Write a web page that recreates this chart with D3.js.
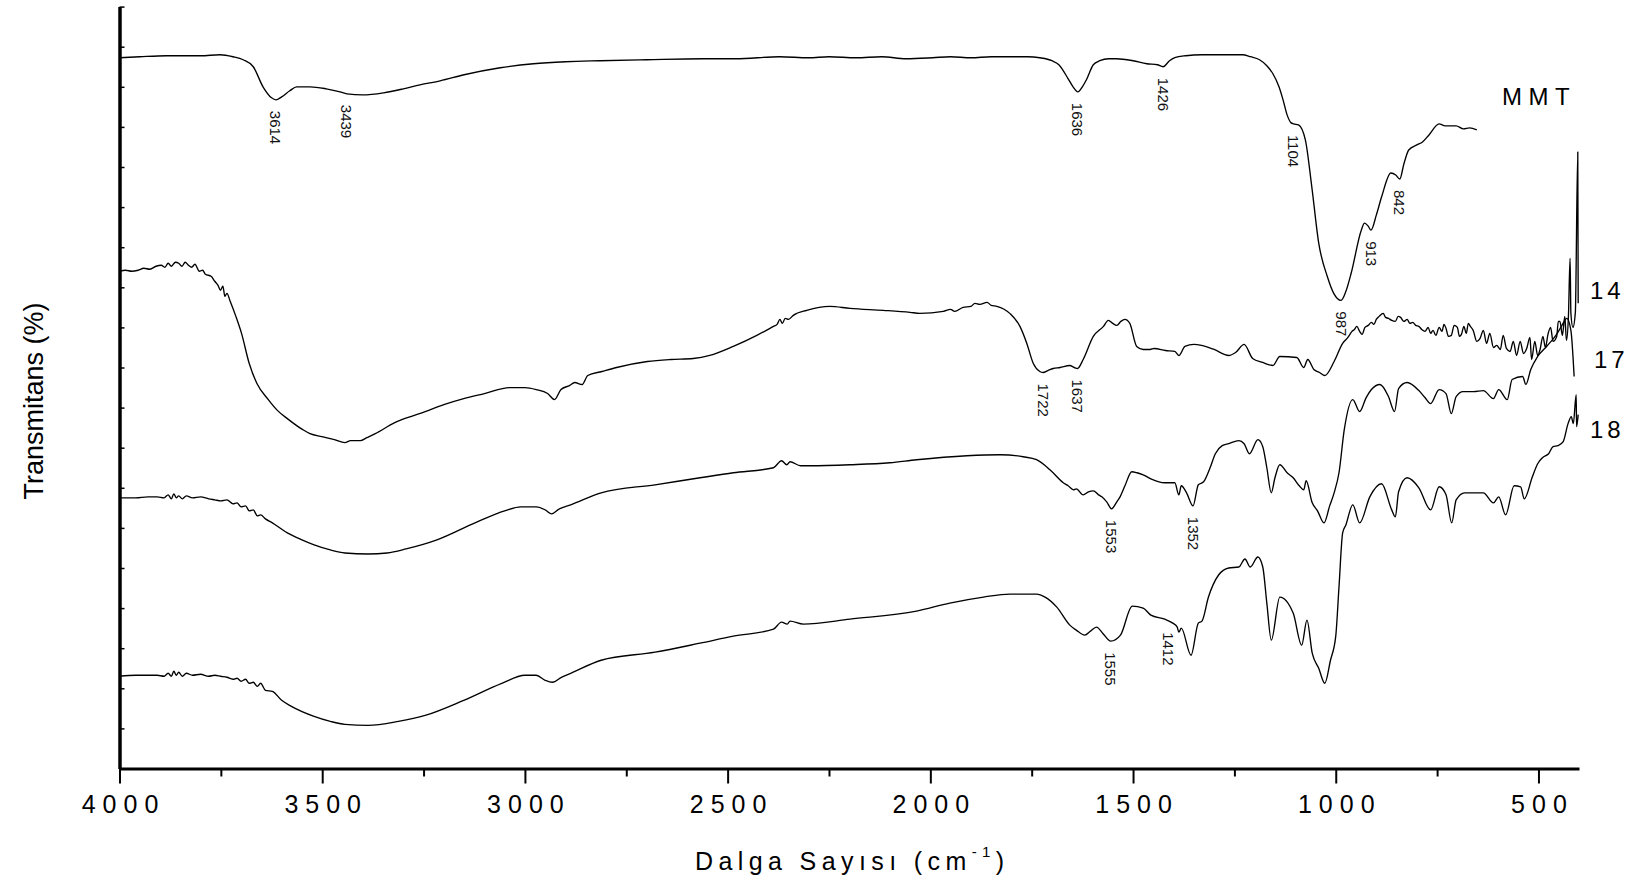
<!DOCTYPE html>
<html>
<head>
<meta charset="utf-8">
<script src="https://cdn.jsdelivr.net/npm/d3@7"></script>
<style>
  html, body { margin: 0; padding: 0; background: #fff; }
  svg { display: block; }
  text { font-family: Arial, "Liberation Sans", sans-serif; }
</style>
</head>
<body>
<svg id="chart" width="1632" height="883"></svg>
<script>
// FTIR spectra, [wavenumber cm-1, offset transmittance]
const mmt = [[4000,709],[3950,710],[3884,711],[3800,711],[3752,712],[3720,710],[3695,707],[3670,700],[3646,680],[3625,669],[3614,667],[3600,670],[3580,676],[3563,680],[3530,680],[3490,678],[3456,675],[3439,673],[3400,672],[3349,674],[3300,678],[3259,682],[3209,686],[3150,692],[3061,699],[2979,703],[2900,705],[2815,706],[2700,707],[2561,708],[2480,708],[2372,710],[2300,709],[2250,710],[2183,709],[2120,710],[2060,708],[1994,709],[1950,710],[1900,709],[1850,710],[1806,710],[1760,710],[1730,709],[1700,706],[1683,702],[1660,688],[1648,680],[1636,675],[1625,680],[1615,687],[1598,702],[1582,706],[1560,708],[1541,708],[1500,706],[1466,703],[1440,702],[1426,700],[1410,706],[1397,709],[1370,711],[1330,712],[1280,712],[1230,712],[1210,710],[1188,707],[1170,701],[1155,693],[1140,680],[1130,667],[1120,652],[1110,644],[1104,643],[1092,642],[1075,627],[1059,580],[1042,524],[1021,491],[1005,474],[987,467],[975,476],[962,494],[937,537],[929,544],[920,541],[913,537],[900,552],[887,570],[864,594],[852,592],[842,588],[832,603],[820,617],[800,622],[786,625],[770,632],[745,643],[730,641],[703,641],[685,638],[670,639],[652,637]];

const s14 = [[4000,496],[3985,497],[3970,496],[3954,497],[3940,499],[3925,498],[3910,501],[3897,502],[3888,500],[3880,504],[3872,501],[3862,505],[3854,504],[3846,501],[3838,505],[3830,502],[3822,500],[3814,503],[3803,496],[3795,497],[3788,493],[3774,491],[3765,486],[3757,482],[3751,477],[3745,481],[3740,471],[3735,474],[3727,466],[3713,451],[3699,434],[3680,404],[3661,384],[3633,368],[3610,357],[3586,349],[3548,338],[3530,334],[3501,331],[3470,328],[3444,325],[3430,327],[3406,327],[3390,330],[3369,334],[3321,345],[3290,350],[3246,356],[3200,363],[3151,369],[3100,374],[3038,380],[3000,380],[2972,378],[2944,374],[2927,368],[2911,378],[2890,382],[2877,385],[2859,383],[2845,392],[2810,396],[2774,400],[2698,406],[2640,408],[2585,409],[2544,412],[2486,421],[2428,432],[2387,441],[2378,443],[2371,448],[2365,444],[2358,449],[2350,448],[2338,452],[2305,457],[2248,461],[2198,459],[2116,457],[2050,455],[2026,454],[1968,456],[1950,458],[1940,456],[1919,460],[1900,461],[1890,464],[1878,463],[1860,465],[1850,462],[1836,461],[1804,454],[1779,441],[1762,424],[1746,404],[1730,396],[1722,395],[1710,397],[1697,399],[1680,400],[1656,402],[1645,400],[1637,399],[1623,408],[1598,431],[1573,441],[1561,447],[1550,444],[1540,442],[1530,446],[1520,448],[1508,444],[1491,421],[1475,418],[1458,418],[1448,419],[1420,417],[1397,416],[1387,412],[1372,421],[1350,423],[1331,422],[1300,418],[1264,412],[1247,415],[1226,423],[1205,409],[1180,405],[1155,402],[1138,411],[1096,410],[1079,400],[1069,408],[1054,398],[1040,395],[1027,392],[1004,406],[983,424],[970,430],[960,436],[954,438],[948,441],[941,436],[935,433],[928,440],[920,442],[912,445],[906,443],[900,448],[893,451],[883,454],[877,450],[870,449],[862,447],[853,446],[846,451],[840,450],[832,446],[824,448],[817,444],[810,445],[803,442],[795,441],[788,438],[780,436],[772,440],[766,434],[760,437],[753,432],[745,440],[738,436],[733,443],[728,439],[722,431],[715,432],[708,442],[700,440],[695,431],[690,433],[684,441],[678,434],[673,444],[668,441],[661,437],[652,426],[644,429],[636,437],[628,424],[620,434],[611,420],[603,422],[594,418],[587,432],[579,419],[570,416],[562,426],[554,412],[545,426],[537,414],[529,419],[521,430],[517,408],[509,426],[502,412],[496,418],[489,431],[483,420],[476,434],[470,440],[464,426],[455,431],[451,446],[447,446],[441,432],[435,451],[431,427],[426,452],[422,509],[420,454],[415,440],[409,455],[403,615],[402,464]];

const s17 = [[4000,270],[3960,270],[3930,271],[3907,271],[3890,270],[3880,273],[3872,269],[3866,274],[3860,270],[3854,272],[3845,269],[3835,272],[3820,270],[3800,271],[3780,269],[3765,268],[3750,267],[3735,268],[3720,264],[3710,265],[3700,261],[3689,262],[3680,257],[3670,258],[3660,252],[3652,253],[3640,249],[3623,245],[3586,235],[3550,228],[3520,223],[3480,218],[3444,215],[3387,214],[3340,215],[3293,219],[3217,228],[3123,245],[3050,257],[3010,261],[2972,261],[2950,258],[2934,254],[2915,259],[2887,263],[2812,275],[2679,283],[2568,290],[2486,295],[2387,300],[2367,307],[2354,303],[2346,306],[2320,302],[2297,302],[2198,303],[2100,305],[2034,308],[1910,312],[1828,313],[1771,311],[1738,308],[1705,298],[1672,285],[1660,282],[1647,278],[1640,279],[1623,273],[1610,276],[1598,277],[1585,273],[1577,271],[1565,266],[1553,259],[1540,266],[1532,271],[1520,282],[1503,296],[1490,295],[1475,293],[1456,289],[1422,285],[1397,285],[1387,273],[1381,282],[1368,275],[1352,262],[1339,283],[1326,286],[1310,300],[1297,314],[1280,322],[1264,324],[1239,327],[1226,324],[1213,314],[1192,328],[1180,321],[1170,300],[1159,275],[1150,290],[1138,303],[1120,295],[1105,290],[1090,282],[1079,278],[1073,287],[1058,265],[1045,257],[1029,245],[1015,262],[1004,275],[992,295],[979,338],[958,368],[941,356],[925,370],[912,378],[891,383],[870,371],[855,356],[845,379],[824,385],[795,377],[780,370],[766,364],[745,378],[728,374],[715,354],[703,371],[686,376],[660,376],[636,377],[611,369],[598,378],[577,368],[565,388],[539,391],[531,383],[519,398],[502,411],[480,421],[457,432],[442,442],[430,449],[420,437],[412,391]];

const s18 = [[4000,92],[3960,93],[3930,93],[3907,93],[3890,92],[3880,95],[3872,92],[3866,97],[3860,93],[3854,96],[3845,92],[3835,95],[3820,93],[3800,94],[3780,92],[3765,93],[3750,92],[3735,91],[3720,89],[3710,90],[3700,87],[3689,89],[3680,85],[3670,86],[3660,82],[3652,85],[3640,78],[3623,77],[3600,68],[3576,62],[3520,52],[3480,47],[3444,44],[3387,43],[3312,47],[3246,53],[3151,68],[3057,85],[3000,93],[2972,93],[2950,88],[2932,86],[2910,91],[2887,95],[2812,108],[2679,116],[2568,125],[2486,132],[2387,139],[2367,146],[2353,144],[2346,147],[2313,144],[2198,149],[2034,157],[1952,165],[1869,171],[1804,174],[1738,174],[1717,171],[1688,161],[1656,143],[1640,138],[1619,133],[1605,137],[1590,141],[1575,135],[1555,127],[1531,133],[1502,162],[1475,160],[1456,153],[1422,149],[1402,145],[1391,141],[1387,136],[1381,140],[1357,113],[1339,145],[1330,147],[1314,171],[1289,193],[1264,200],[1239,201],[1224,209],[1211,201],[1192,211],[1180,201],[1170,165],[1159,128],[1138,171],[1105,155],[1084,123],[1071,148],[1058,115],[1042,100],[1027,85],[1013,108],[1000,132],[992,181],[983,235],[975,243],[958,263],[941,245],[916,271],[887,284],[862,258],[853,251],[845,276],[824,290],[795,280],[766,258],[745,281],[728,273],[714,245],[703,268],[682,275],[636,275],[611,265],[598,271],[581,253],[560,282],[544,281],[535,269],[515,291],[502,304],[490,310],[475,314],[464,321],[452,322],[439,326],[427,344],[419,351],[414,344],[407,373],[406,341],[402,353]];

const seriesNames = ["MMT", "14", "17", "18"];

// Labelled absorption bands for each spectrum (cm-1)
const peaksMMT = [3614, 3439, 1636, 1426, 1104, 987, 913, 842];
const peaks14 = [1722, 1637];
const peaks17 = [1553, 1352];
const peaks18 = [1555, 1412];

const xMajorTicks = [4000, 3500, 3000, 2500, 2000, 1500, 1000, 500];
const xMinorTicks = [3750, 3250, 2750, 2250, 1750, 1250, 750];
const yTicks = [0, 40, 80, 120, 160, 200, 240, 280, 320, 360, 400, 440, 480, 520, 560, 600, 640, 680, 720, 760];

const xTitle = "Dalga Sayısı (cm";
const yTitle = "Transmitans (%)";

const svg = d3.select("#chart");

const x = d3.scaleLinear().domain([4000, 400]).range([119.5, 1579]);
const y = d3.scaleLinear().domain([0, 760]).range([768.5, 6.6]);

const series = [mmt, s14, s17, s18];
const peakSets = [peaksMMT, peaks14, peaks17, peaks18];

// spectra
const line = d3.line().x(d => x(d[0])).y(d => y(d[1])).curve(d3.curveMonotoneX);
svg.append("g").selectAll("path")
  .data(series)
  .join("path")
  .attr("d", line)
  .attr("fill", "none")
  .attr("stroke", "#000")
  .attr("stroke-width", 1.35)
  .attr("stroke-linejoin", "round");

// value of a spectrum at a given wavenumber (linear between points)
function valueAt(s, wn) {
  for (let i = 0; i < s.length - 1; i++) {
    const a = s[i], b = s[i + 1];
    if (wn <= a[0] && wn >= b[0]) {
      const t = (a[0] - wn) / (a[0] - b[0]);
      return a[1] + t * (b[1] - a[1]);
    }
  }
  return s[s.length - 1][1];
}

// band labels, rotated, just below each band
const peakG = svg.append("g");
peakSets.forEach((peaks, i) => {
  peaks.forEach(wn => {
    const px = x(wn), py = y(valueAt(series[i], wn)) + 11;
    peakG.append("text")
      .attr("transform", `translate(${px},${py}) rotate(90)`)
      .attr("dominant-baseline", "central")
      .attr("font-size", 15)
      .attr("fill", "#111")
      .text(wn);
  });
});

// x axis
const xAxis = d3.axisBottom(x).tickValues(xMajorTicks).tickSize(15).tickSizeOuter(0)
  .tickPadding(12).tickFormat(d3.format("d"));
const gx = svg.append("g").attr("transform", `translate(0,${y(0)})`).call(xAxis);
gx.select(".domain").attr("stroke", "#000").attr("stroke-width", 3);
gx.selectAll(".tick line").attr("stroke", "#000").attr("stroke-width", 2);
gx.selectAll(".tick text")
  .attr("font-size", 25)
  .attr("font-family", "Arial, 'Liberation Sans', sans-serif")
  .attr("letter-spacing", "7px")
  .attr("dx", "3.5px")
  .attr("fill", "#000");

const xMinor = d3.axisBottom(x).tickValues(xMinorTicks).tickSize(8).tickSizeOuter(0).tickFormat("");
const gxm = svg.append("g").attr("transform", `translate(0,${y(0)})`).call(xMinor);
gxm.select(".domain").remove();
gxm.selectAll(".tick line").attr("stroke", "#000").attr("stroke-width", 2);

// y axis (unlabelled, small inward ticks)
const yAxis = d3.axisLeft(y).tickValues(yTicks).tickSizeInner(-5).tickSizeOuter(0).tickFormat("");
const gy = svg.append("g").attr("transform", `translate(${x(4000)},0)`).call(yAxis);
gy.select(".domain").attr("stroke", "#000").attr("stroke-width", 3.5);
gy.selectAll(".tick line").attr("stroke", "#000").attr("stroke-width", 1.5);

// axis titles
const xt = svg.append("text")
  .attr("x", (x(4000) + x(400)) / 2 + 3)
  .attr("y", 870)
  .attr("text-anchor", "middle")
  .attr("font-size", 25)
  .attr("letter-spacing", "5.4px")
  .attr("fill", "#000");
xt.append("tspan").text(xTitle);
xt.append("tspan").attr("font-size", 15).attr("dy", -13).text("-1");
xt.append("tspan").attr("dy", 13).text(")");

svg.append("text")
  .attr("transform", `translate(43,401) rotate(-90)`)
  .attr("text-anchor", "middle")
  .attr("font-size", 27)
  .attr("fill", "#000")
  .text(yTitle);

// spectrum names at the right edge
const nameLayout = [
  { x: 1502, y: 105, ls: 6.5 },
  { x: 1590, y: 299, ls: 4 },
  { x: 1594, y: 368, ls: 4 },
  { x: 1590, y: 438, ls: 4 }
];
svg.append("g").selectAll("text")
  .data(seriesNames)
  .join("text")
  .attr("x", (d, i) => nameLayout[i].x)
  .attr("y", (d, i) => nameLayout[i].y)
  .attr("letter-spacing", (d, i) => nameLayout[i].ls + "px")
  .attr("font-size", 24)
  .attr("fill", "#000")
  .text(d => d);
</script>
</body>
</html>
